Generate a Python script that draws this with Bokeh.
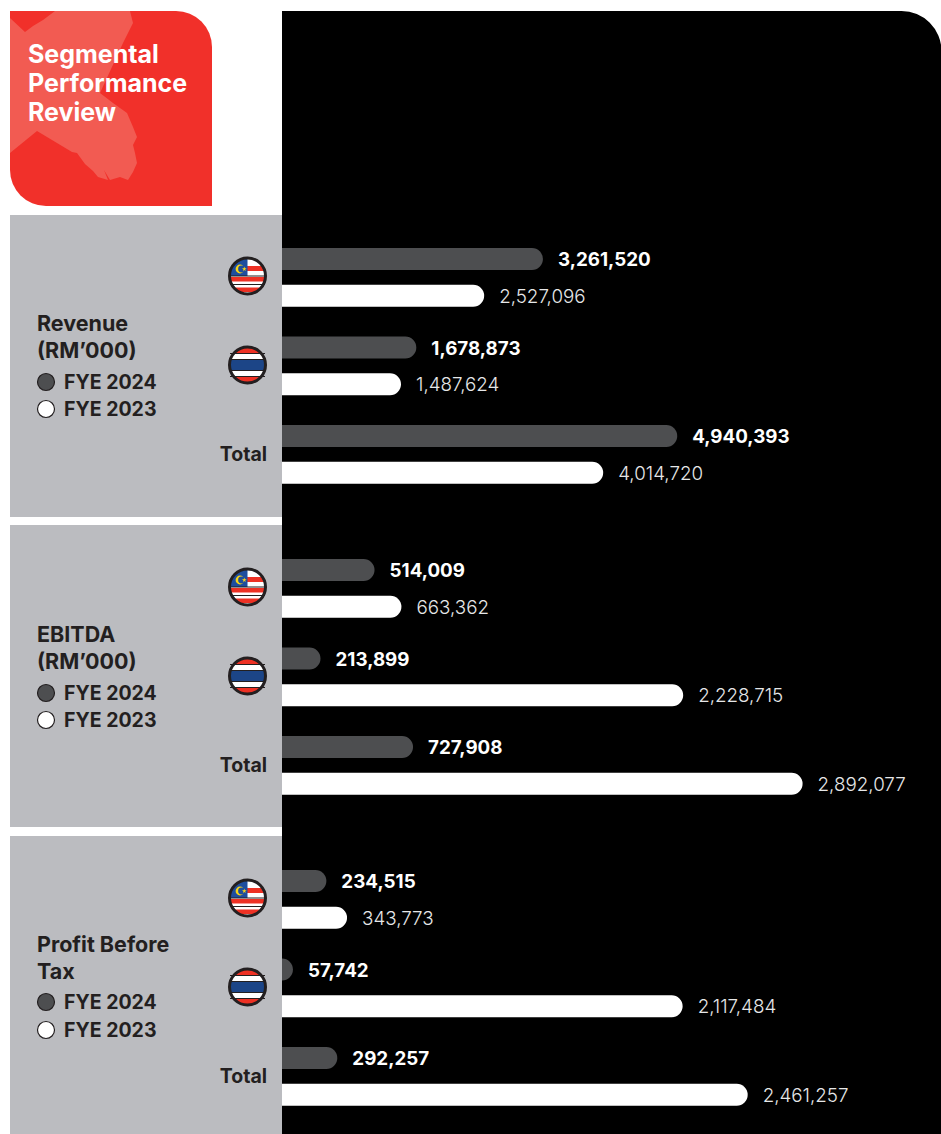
import numpy as np
from bokeh.core.properties import value
from bokeh.embed import file_html
from bokeh.models import ColumnDataSource, Range1d
from bokeh.plotting import figure
from bokeh.resources import INLINE

# Segment results in RM'000, ordered Malaysia, Thailand, Total
segments = ["Malaysia", "Thailand", "Total"]
revenue_2024 = [3261520, 1678873, 4940393]
revenue_2023 = [2527096, 1487624, 4014720]
ebitda_2024 = [514009, 213899, 727908]
ebitda_2023 = [663362, 2228715, 2892077]
pbt_2024 = [234515, 57742, 292257]
pbt_2023 = [343773, 2117484, 2461257]
panel_titles = [["Revenue", "(RM\u2019000)"], ["EBITDA", "(RM\u2019000)"], ["Profit Before", "Tax"]]
year_labels = ["FYE 2024", "FYE 2023"]
card_title = ["Segmental", "Performance", "Review"]

W, H = 941, 1134
NUDGE = 0.5  # aligns shape edges with whole pixels
BAR_START = 282
DARK, LIGHT_BAR = "#4D4E50", "#FFFFFF"
INK, GREY, RED, BRUSH = "#231F20", "#BBBCC0", "#F1302A", "#F25B52"
HEAD = value("Inter")
NUM_LIGHT = value("Inter Light")

p = figure(width=W, height=H, x_range=Range1d(NUDGE, W + NUDGE), y_range=Range1d(H + NUDGE, NUDGE),
           output_backend="svg", toolbar_location=None, min_border=0,
           outline_line_color=None, background_fill_color="#FFFFFF",
           border_fill_color="#FFFFFF")
p.axis.visible = False
p.grid.visible = False


def label(x, y, txt, size, color=INK, bold=True, align="left", font=HEAD):
    p.text([x], [y], text=[txt], text_font=font, text_font_size=f"{size}px",
           text_font_style="bold" if bold else "normal", text_color=color,
           text_align=align, text_baseline="middle")


def chord(cx, cy, r, y0, y1, x_max=None):
    """Polygon for the slice of a circle between two horizontal lines."""
    ys = np.linspace(y0, y1, 14)
    half = np.sqrt(np.clip(r**2 - (ys - cy)**2, 0, None))
    right = cx + half if x_max is None else np.minimum(cx + half, x_max)
    return np.r_[cx - half, right[::-1]], np.r_[ys, ys[::-1]]


def fill_slice(cx, cy, r, y0, y1, color, x_max=None):
    xs, ys = chord(cx, cy, r, y0, y1, x_max)
    p.patch(xs, ys, fill_color=color, line_color=None)


def malaysia_flag(cx, cy, r=17.5):
    p.circle([cx], [cy], radius=r, fill_color="#FFFFFF", line_color=None)
    for y0, y1 in ((-10, -5), (1, 5.5), (11.5, 16)):
        fill_slice(cx, cy, r, cy + y0, cy + y1, "#EE3124")
    fill_slice(cx, cy, r, cy - r, cy, "#1F4E9E", x_max=cx)
    p.segment(cx - r, cy, cx + r, cy, line_color=INK, line_width=1)
    p.segment(cx - r, cy + 8.5, cx + r, cy + 8.5, line_color=INK, line_width=1)
    p.circle([cx - 7.5], [cy - 7], radius=4.4, fill_color="#F9D616", line_color=None)
    p.circle([cx - 6], [cy - 7], radius=3.4, fill_color="#1F4E9E", line_color=None)
    p.scatter([cx - 3.2], [cy - 7], marker="star", size=5, fill_color="#F9D616", line_color=None)
    p.circle([cx], [cy], radius=18, fill_color=None, line_color=INK, line_width=3)


def thai_flag(cx, cy, r=17.5):
    p.circle([cx], [cy], radius=r, fill_color="#FFFFFF", line_color=None)
    fill_slice(cx, cy, r, cy - r, cy - 11.5, "#EE3124")
    fill_slice(cx, cy, r, cy + 11.5, cy + r, "#EE3124")
    fill_slice(cx, cy, r, cy - 5.5, cy + 5.5, "#1C4587")
    for dy in (-11.5, -5.5, 5.5, 11.5):
        p.segment(cx - r, cy + dy, cx + r, cy + dy, line_color=INK, line_width=1)
    p.circle([cx], [cy], radius=18, fill_color=None, line_color=INK, line_width=3)


# Black backdrop with its rounded upper right corner
p.quad(left=[BAR_START], right=[W + NUDGE], top=[11], bottom=[H + NUDGE], fill_color="#000000",
       line_color=None, border_radius=(0, 40, 0, 0))

# Title card and its brush stroke
p.quad(left=[10], right=[212], top=[11], bottom=[206], fill_color=RED, line_color=None,
       border_radius=(0, 36, 0, 36))
brush_x = [10, 25, 33, 38, 43, 55, 130, 133, 123, 100, 113, 127, 133, 137, 133, 135, 137, 133, 128,
           120, 110, 104, 108, 98, 93, 85, 77, 72, 37, 10]
brush_y = [18, 32, 26, 23, 20, 11, 11, 23, 43, 93, 103, 113, 127, 137, 145, 153, 163, 172, 180,
           177, 180, 170, 180, 177, 171, 164, 153, 152, 131, 153]
p.patch(brush_x, brush_y, fill_color=BRUSH, line_color=None)
for i, line in enumerate(card_title):
    label(28, 54 + i * 29, line, 25, color="#FFFFFF")

# One panel per measure; each has its own value range for the bars
panels = [
    ("revenue", revenue_2024, revenue_2023, 215, 517, 259, 8_237_500, [323, 350], [382, 409]),
    ("ebitda", ebitda_2024, ebitda_2023, 525, 827, 570, 3_661_000, [634, 661], [693, 720]),
    ("pbt", pbt_2024, pbt_2023, 836, H + NUDGE, 881, 3_483_000, [944, 971], [1002, 1030]),
]
GROUP_STEP, PAIR_STEP = 88.5, 36.7

for (name, cur, prev, top, bottom, first_y, full, title_ys, legend_ys), title in zip(panels, panel_titles):
    p.quad(left=[10], right=[BAR_START], top=[top], bottom=[bottom], fill_color=GREY, line_color=None)

    # Value 0 falls on the panel edge; `full` is the span from there to the page's right side
    per_px = full / (W - BAR_START)
    p.extra_x_ranges[name] = Range1d(-(BAR_START - NUDGE) * per_px, full + NUDGE * per_px)

    ys_cur = [first_y + i * GROUP_STEP for i in range(len(segments))]
    ys_prev = [y + PAIR_STEP for y in ys_cur]
    for vals, ys, color, txt_color, bold, font in (
        (cur, ys_cur, DARK, "#FFFFFF", "bold", HEAD),
        (prev, ys_prev, LIGHT_BAR, "#E6E7E8", "normal", NUM_LIGHT),
    ):
        src = ColumnDataSource(dict(v=vals, y=ys, t=[f"{v:,}" for v in vals]))
        p.hbar(y="y", left=0, right="v", height=22, source=src, x_range_name=name,
               fill_color=color, line_color=None, border_radius=(0, 11, 11, 0))
        p.text(x="v", y="y", text="t", source=src, x_range_name=name, x_offset=15,
               text_font=font, text_font_size="18.8px", text_font_style=bold,
               text_color=txt_color, text_align="left", text_baseline="middle")

    malaysia_flag(247.5, ys_cur[0] + 17)
    thai_flag(247.5, ys_cur[1] + 17.5)
    label(267, ys_cur[2] + 18, segments[2], 19.5, align="right")

    for y, line in zip(title_ys, title):
        label(37, y, line, 21.5)
    for y, txt, fill in zip(legend_ys, year_labels, (DARK, "#FFFFFF")):
        p.circle([46], [y], radius=8.5, fill_color=fill, line_color=INK, line_width=1.2)
        label(64, y, txt, 19.5)

open("out.html", "w").write(file_html(p, INLINE))
